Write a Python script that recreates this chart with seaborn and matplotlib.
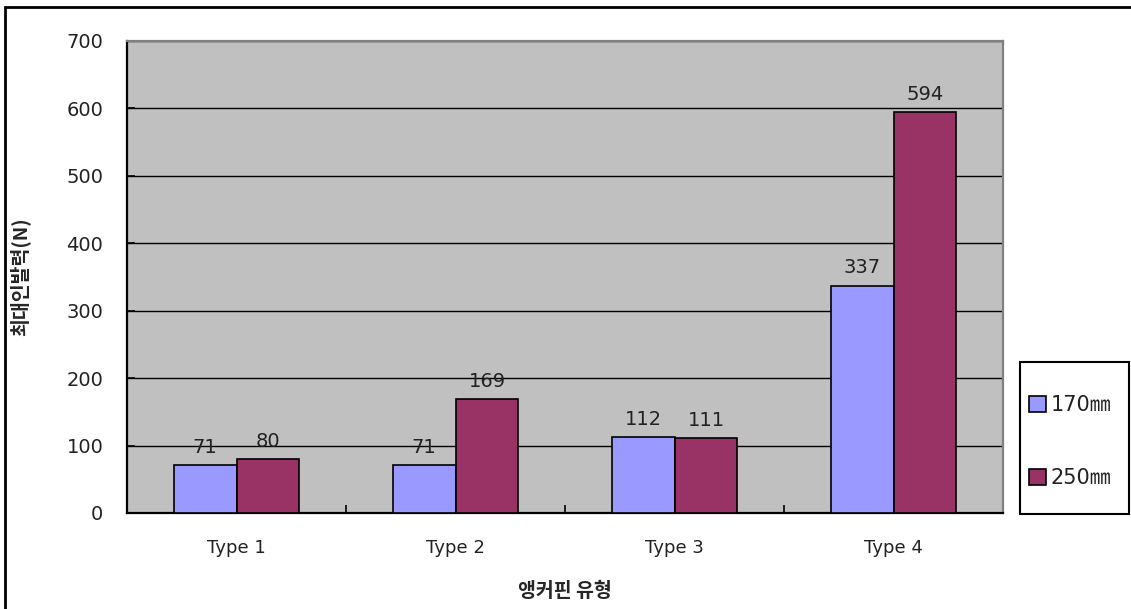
import matplotlib
matplotlib.use("Agg")
import matplotlib.pyplot as plt
import seaborn as sns
import pandas as pd
from matplotlib.patches import Rectangle

categories = ["Type 1", "Type 2", "Type 3", "Type 4"]
series_names = ["170㎜", "250㎜"]
values_170 = [71, 71, 112, 337]
values_250 = [80, 169, 111, 594]
y_ticks = [0, 100, 200, 300, 400, 500, 600, 700]

df = pd.DataFrame({
    "type": categories * 2,
    "series": [series_names[0]] * 4 + [series_names[1]] * 4,
    "value": values_170 + values_250,
})

sns.set_theme(style="white")
plt.rcParams['font.family'] = ['DejaVu Sans', 'Noto Sans CJK KR']
FS = 14
W, H = 1131, 609

fig = plt.figure(figsize=(11.31, 6.09), dpi=100)
ax = fig.add_axes([127 / W, 96 / H, 876 / W, 472 / H])
ax.set_facecolor("#C0C0C0")

sns.barplot(data=df, x="type", y="value", hue="series",
            palette=["#9999FF", "#993366"], saturation=1, width=0.575,
            edgecolor="black", linewidth=1.2, ax=ax, legend=True, zorder=3)

ax.set_ylim(0, 700)
ax.set_xlim(-0.5, 3.5)
ax.set_yticks(y_ticks)
ax.yaxis.grid(True, color="black", linewidth=1.0, zorder=0)
ax.set_axisbelow(True)
ax.tick_params(axis="y", direction="in", length=6, width=1.2, color="black",
               labelsize=FS, pad=17, left=True, labelcolor="#222222")
ax.tick_params(axis="x", which="major", length=0, labelsize=FS - 1, pad=19,
               labelcolor="#222222")
ax.set_xticks([0.5, 1.5, 2.5], minor=True)
ax.tick_params(axis="x", which="minor", direction="in", length=6, width=1.2,
               color="black", bottom=True)

for c in ax.containers:
    ax.bar_label(c, padding=6, fontsize=FS, color="#222222")

for s in ["left", "bottom"]:
    ax.spines[s].set_color("black")
    ax.spines[s].set_linewidth(1.6)
for s in ["top", "right"]:
    ax.spines[s].set_color("#808080")
    ax.spines[s].set_linewidth(1.6)

ax.set_xlabel("앵커핀 유형", fontsize=FS, fontweight="bold",
              family=['Noto Sans CJK KR', 'DejaVu Sans'])
ax.xaxis.set_label_coords(0.5, -0.145)
ax.set_ylabel("최대인발력(N)", fontsize=FS, fontweight="bold",
              family=['Noto Sans CJK KR', 'DejaVu Sans'])
ax.yaxis.set_label_coords(-0.11, 0.5)

handles, labels = ax.get_legend_handles_labels()
ax.get_legend().remove()
leg = fig.legend(handles, labels, loc="upper left",
                 bbox_to_anchor=(1029 / W, 1 - 395 / H),
                 frameon=False, fontsize=15, labelspacing=2.55, borderpad=0,
                 handlelength=0.8, handleheight=0.8, handletextpad=0.25,
                 borderaxespad=0)
for h in leg.legend_handles:
    h.set_edgecolor("black")
    h.set_linewidth(1.2)
for t in leg.get_texts():
    t.set_color("#222222")

fig.add_artist(Rectangle((1020 / W, 1 - 514 / H), 109 / W, 152 / H,
                         transform=fig.transFigure, fill=False,
                         edgecolor="black", linewidth=1.5))

fig.add_artist(Rectangle((5 / W, -0.05), 1.2, 1 - 7 / H + 0.05,
                         transform=fig.transFigure, fill=False,
                         edgecolor="black", linewidth=2, clip_on=False))

fig.savefig("out.png", dpi=100, facecolor="white")
